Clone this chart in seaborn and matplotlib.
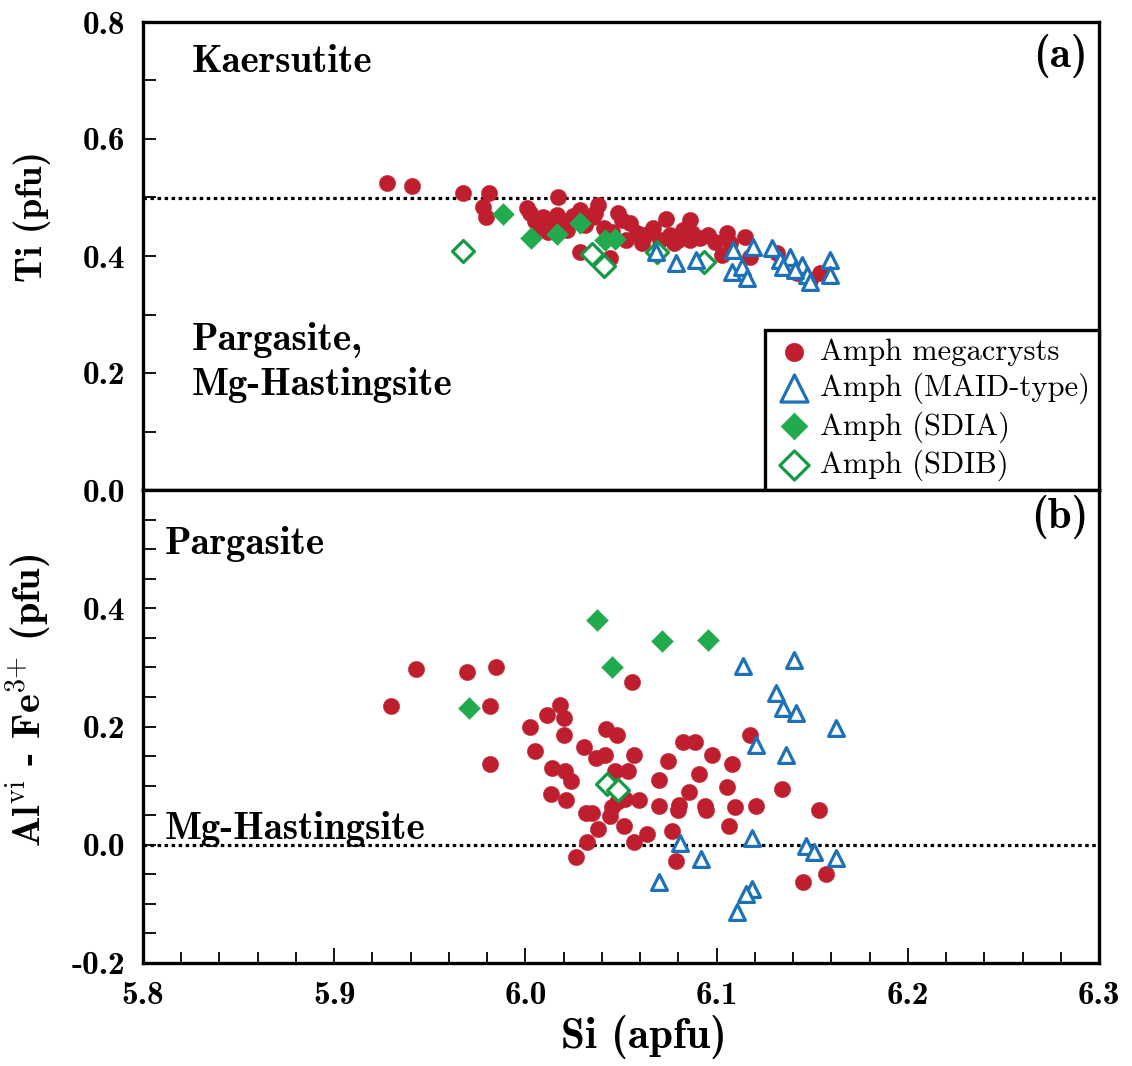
import numpy as np
import pandas as pd
import matplotlib
matplotlib.use("Agg")
import matplotlib.pyplot as plt
import seaborn as sns
from matplotlib.ticker import MultipleLocator, FormatStrFormatter

# ---------------- data: panel (a) Ti vs Si ----------------
a_mega_si = [5.9276, 5.9407, 5.9674, 5.9810, 5.9778, 5.9794, 6.0008, 6.0024, 6.0092, 6.0076,
             6.0129, 6.0171, 6.0165, 6.0197, 6.0218, 6.0249, 6.0286, 6.0286, 6.0354, 6.0364,
             6.0380, 6.0411, 6.0442, 6.0484, 6.0505, 6.0547, 6.0584, 6.0610, 6.0626, 6.0667,
             6.0704, 6.0735, 6.0756, 6.0798, 6.0824, 6.0861, 6.0871, 6.0913, 6.0955, 6.0992,
             6.1054, 6.1070, 6.1149, 6.1028, 6.1175, 6.1316, 6.1420, 6.1541, 6.1489, 6.0050,
             6.0118, 6.0312, 6.0453, 6.0526, 6.0778, 6.0861]
a_mega_ti = [0.525, 0.520, 0.508, 0.508, 0.484, 0.467, 0.482, 0.474, 0.467, 0.448,
             0.453, 0.501, 0.470, 0.458, 0.444, 0.468, 0.407, 0.479, 0.467, 0.474,
             0.487, 0.448, 0.397, 0.474, 0.462, 0.456, 0.439, 0.422, 0.436, 0.448,
             0.427, 0.463, 0.436, 0.427, 0.444, 0.462, 0.439, 0.431, 0.436, 0.424,
             0.439, 0.422, 0.432, 0.402, 0.398, 0.405, 0.371, 0.371, 0.359, 0.460,
             0.441, 0.453, 0.441, 0.427, 0.422, 0.427]

a_maid_si = [6.0683, 6.0788, 6.0892, 6.1086, 6.1190, 6.1290, 6.1081, 6.1133, 6.1159,
             6.1332, 6.1384, 6.1447, 6.1473, 6.1489, 6.1593, 6.1593, 6.1347, 6.1410]
a_maid_ti = [0.407, 0.388, 0.393, 0.410, 0.415, 0.414, 0.373, 0.381, 0.362,
             0.393, 0.398, 0.385, 0.368, 0.356, 0.393, 0.368, 0.381, 0.376]

a_sdia_si = [5.9883, 6.0029, 6.0165, 6.0286, 6.0416, 6.0469]
a_sdia_ti = [0.472, 0.431, 0.438, 0.456, 0.427, 0.429]

a_sdib_si = [5.9674, 6.0348, 6.0411, 6.0688, 6.0934]
a_sdib_ti = [0.409, 0.403, 0.383, 0.407, 0.390]

# ---------------- data: panel (b) AlVI - Fe3+ vs Si ----------------
b_mega_si = [5.9297, 5.9428, 5.9695, 5.9846, 5.9815, 5.9815, 6.0024, 6.0050, 6.0113, 6.0181,
             6.0202, 6.0202, 6.0134, 6.0139, 6.0207, 6.0238, 6.0212, 6.0265, 6.0322, 6.0317,
             6.0348, 6.0380, 6.0306, 6.0369, 6.0416, 6.0422, 6.0479, 6.0442, 6.0453, 6.0479,
             6.0521, 6.0469, 6.0537, 6.0516, 6.0568, 6.0568, 6.0594, 6.0558, 6.0636, 6.0699,
             6.0699, 6.0746, 6.0767, 6.0788, 6.0803, 6.0798, 6.0824, 6.0887, 6.0856, 6.0908,
             6.0939, 6.0945, 6.0976, 6.1054, 6.1065, 6.1081, 6.1096, 6.1175, 6.1206, 6.1342,
             6.1536, 6.1452, 6.1572]
b_mega_al = [0.234, 0.298, 0.293, 0.300, 0.234, 0.136, 0.200, 0.158, 0.220, 0.236,
             0.215, 0.186, 0.086, 0.129, 0.124, 0.107, 0.075, -0.020, 0.005, 0.053,
             0.054, 0.027, 0.166, 0.146, 0.151, 0.195, 0.186, 0.049, 0.064, 0.073,
             0.078, 0.124, 0.124, 0.031, 0.005, 0.151, 0.075, 0.276, 0.019, 0.066,
             0.110, 0.142, 0.024, -0.027, 0.068, 0.058, 0.173, 0.173, 0.090, 0.119,
             0.066, 0.059, 0.151, 0.097, 0.031, 0.136, 0.064, 0.185, 0.066, 0.095,
             0.058, -0.063, -0.049]

b_maid_si = [6.1138, 6.1405, 6.1311, 6.1347, 6.1415, 6.1624, 6.1206, 6.1363, 6.0809,
             6.1185, 6.0918, 6.1468, 6.1509, 6.1624, 6.0699, 6.1185, 6.1154, 6.1107]
b_maid_al = [0.303, 0.312, 0.256, 0.232, 0.222, 0.197, 0.169, 0.151, 0.003,
             0.012, -0.024, -0.002, -0.012, -0.022, -0.063, -0.075, -0.083, -0.114]

b_sdia_si = [6.0374, 6.0714, 6.0955, 6.0453, 5.9705]
b_sdia_al = [0.380, 0.344, 0.346, 0.300, 0.232]

b_sdib_si = [6.0427, 6.0484]
b_sdib_al = [0.102, 0.093]

labels = ["Amph megacrysts", "Amph (MAID-type)", "Amph (SDIA)", "Amph (SDIB)"]
x_ticks = [5.8, 5.9, 6.0, 6.1, 6.2, 6.3]
a_yticks = [0.0, 0.2, 0.4, 0.6, 0.8]
b_yticks = [-0.2, 0.0, 0.2, 0.4]

RED = "#BE1E2D"
BLUE = "#1C71B8"
GREEN = "#22AB4E"
GREEN_D = "#149A45"

sns.set_theme(style="white")
plt.rcParams.update({
    "font.family": ["cmb10", "DejaVu Serif"],
    "mathtext.fontset": "cm",
    "axes.unicode_minus": False,
    "axes.linewidth": 2.4,
    "axes.edgecolor": "black",
    "text.color": "black",
    "axes.labelcolor": "black",
    "xtick.color": "black",
    "ytick.color": "black",
})

fig = plt.figure(figsize=(11.32, 10.66), dpi=100)
W, H = 1132, 1066
L, R = 143, 1099
axa = fig.add_axes([L / W, 1 - 490 / H, (R - L) / W, 468 / H])
axb = fig.add_axes([L / W, 1 - 963 / H, (R - L) / W, 473 / H])


def draw(ax, mega, maid, sdia, sdib, ycol):
    dm = pd.DataFrame({"Si": mega[0], ycol: mega[1]})
    sns.scatterplot(data=dm, x="Si", y=ycol, ax=ax, marker="o", s=138,
                    color=RED, edgecolor=RED, linewidth=0.3, label=labels[0], zorder=3)
    dd = pd.DataFrame({"Si": sdia[0], ycol: sdia[1]})
    sns.scatterplot(data=dd, x="Si", y=ycol, ax=ax, marker="D", s=125,
                    color=GREEN, edgecolor=GREEN, linewidth=0.3, label=labels[2], zorder=4)
    db = pd.DataFrame({"Si": sdib[0], ycol: sdib[1]})
    sns.scatterplot(data=db, x="Si", y=ycol, ax=ax, marker="D", s=125,
                    color="white", edgecolor=GREEN_D, linewidth=2.3, label=labels[3], zorder=5)
    dt = pd.DataFrame({"Si": maid[0], ycol: maid[1]})
    sns.scatterplot(data=dt, x="Si", y=ycol, ax=ax, marker="^", s=130,
                    color="white", edgecolor=BLUE, linewidth=2.3, label=labels[1], zorder=6)


draw(axa, (a_mega_si, a_mega_ti), (a_maid_si, a_maid_ti),
     (a_sdia_si, a_sdia_ti), (a_sdib_si, a_sdib_ti), "Ti")
draw(axb, (b_mega_si, b_mega_al), (b_maid_si, b_maid_al),
     (b_sdia_si, b_sdia_al), (b_sdib_si, b_sdib_al), "Al")

axa.axhline(0.5, color="black", ls=(0, (1.1, 1.1)), lw=2.3, zorder=2)
axb.axhline(0.0, color="black", ls=(0, (1.1, 1.1)), lw=2.3, zorder=2)

TICKFS = 24
for ax in (axa, axb):
    ax.set_xlim(5.8, 6.3)
    ax.set_xticks(x_ticks)
    ax.xaxis.set_minor_locator(MultipleLocator(0.02))
    ax.xaxis.set_major_formatter(FormatStrFormatter("%.1f"))
    ax.yaxis.set_major_formatter(FormatStrFormatter("%.1f"))
    ax.tick_params(axis="both", which="both", direction="in", left=True, bottom=True,
                   right=False, top=False, width=1.3, colors="black")
    ax.tick_params(axis="both", which="major", labelsize=TICKFS, pad=13)
    for sp in ax.spines.values():
        sp.set_linewidth(2.4)
        sp.set_color("black")
    ax.grid(False)

axa.set_ylim(0.0, 0.8)
axa.set_yticks(a_yticks)
axa.yaxis.set_minor_locator(MultipleLocator(0.1))
axa.tick_params(axis="y", which="both", length=9)
axa.tick_params(axis="x", which="both", bottom=False, labelbottom=False)
axa.set_xlabel("")

axb.set_ylim(-0.2, 0.6)
axb.set_yticks(b_yticks)
axb.yaxis.set_minor_locator(MultipleLocator(0.05))
axb.tick_params(axis="y", which="both", length=9)
axb.tick_params(axis="x", which="major", length=11)
axb.tick_params(axis="x", which="minor", length=8)

axa.set_ylabel("Ti (pfu)", fontsize=27)
axa.yaxis.set_label_coords(-0.096, 0.585)
axb.set_ylabel(r"Al$^{\mathrm{vi}}$ - Fe$^{3{+}}$ (pfu)", fontsize=29)
axb.yaxis.set_label_coords(-0.094, 0.555)
axb.set_xlabel("Si (apfu)", fontsize=31)
axb.xaxis.set_label_coords(0.524, -0.11)

TXTFS = 28
axa.text(5.8256, 0.73, "Kaersutite", fontsize=TXTFS, va="center", ha="left")
axa.text(5.8256, 0.256, "Pargasite,", fontsize=TXTFS, va="center", ha="left")
axa.text(5.8256, 0.180, "Mg-Hastingsite", fontsize=TXTFS, va="center", ha="left")
axa.text(6.2942, 0.742, "(a)", fontsize=31, va="center", ha="right")
axb.text(5.8115, 0.508, "Pargasite", fontsize=TXTFS, va="center", ha="left")
axb.text(5.8115, 0.027, "Mg-Hastingsite", fontsize=TXTFS, va="center", ha="left")
axb.text(6.2942, 0.555, "(b)", fontsize=31, va="center", ha="right")

# legend in panel (a) only
h, l = axa.get_legend_handles_labels()
order = [l.index(x) for x in labels]
if axb.get_legend() is not None:
    axb.get_legend().remove()
leg = axa.legend([h[i] for i in order], [l[i] for i in order], loc="lower right",
                 bbox_to_anchor=(1.0, 0.0), borderaxespad=0.0, frameon=True,
                 fancybox=False, edgecolor="black", framealpha=1,
                 prop={"family": ["cmr10", "DejaVu Serif"], "size": 22},
                 handletextpad=0.2, labelspacing=0.22, borderpad=0.3,
                 handlelength=1.3, scatterpoints=1)
leg.get_frame().set_linewidth(2.4)
sizes = [180, 380, 190, 220]
for hd, sz in zip(leg.legend_handles, sizes):
    hd.set_sizes([sz])

fig.savefig("out.png", dpi=100)
